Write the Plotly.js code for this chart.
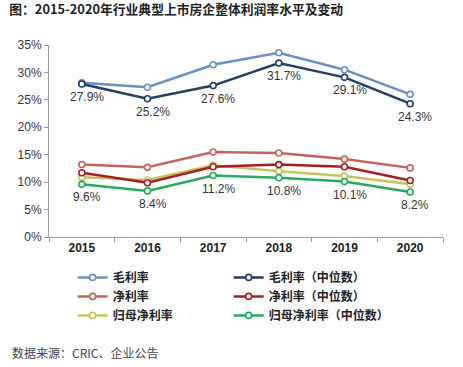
<!DOCTYPE html>
<html><head><meta charset="utf-8">
<script src="https://cdn.plot.ly/plotly-3.0.1.min.js"></script>
<style>html,body{margin:0;padding:0;background:#fff}#c{width:463px;height:367px}</style>
</head><body><div id="c"></div>
<script>
const years = ['2015','2016','2017','2018','2019','2020'];
const gross = [28.1, 27.3, 31.4, 33.6, 30.5, 26.0];
const grossMed = [27.9, 25.2, 27.6, 31.7, 29.1, 24.3];
const net = [13.2, 12.7, 15.5, 15.3, 14.2, 12.6];
const netMed = [11.7, 9.9, 12.8, 13.2, 12.8, 10.3];
const parentNet = [10.9, 10.4, 13.1, 12.0, 11.1, 9.6];
const parentNetMed = [9.6, 8.4, 11.2, 10.8, 10.1, 8.2];
const names = ['毛利率','毛利率（中位数）','净利率','净利率（中位数）','归母净利率','归母净利率（中位数）'];
const titleText = '图：2015-2020年行业典型上市房企整体利润率水平及变动';
const sourceText = '数据来源：CRIC、企业公告';

const F = 'Liberation Sans, Arial, Noto Sans CJK SC, sans-serif';
const CJK = 'Noto Sans CJK SC, Liberation Sans, sans-serif';
const colors = ['#6a90bf','#233f66','#c6625c','#a51f22','#c4c45e','#25aa5e'];
const series = [gross, grossMed, net, netMed, parentNet, parentNetMed];
const legendIds = ['legend','legend2','legend','legend2','legend','legend2'];

const traces = series.map((s,i)=>({
  x: years, y: s.map(v=>v/100), name: names[i], type:'scatter', mode:'lines+markers',
  line:{color:colors[i], width:2.5},
  marker:{symbol:'circle', size:6, color:'#ffffff', line:{color:colors[i], width:1.6}},
  legend: legendIds[i], legendrank: i+1, hoverinfo:'skip'
}));
// draw order: put green and navy on top
const order = [0,2,4,3,1,5];
const data = order.map(i=>traces[i]);

const annotations = [];
[grossMed, parentNetMed].forEach(s=>{
  s.forEach((v,j)=>annotations.push({x:j, y:v/100, xref:'x', yref:'y', text:v.toFixed(1)+'%',
    showarrow:false, xshift:5, yshift:-13, font:{family:F,size:12,color:'#333'}}));
});
annotations.push({xref:'paper', yref:'paper', x:-0.1, y:-0.6, xanchor:'left', yanchor:'middle',
  text:sourceText, showarrow:false, font:{family:CJK,size:12,color:'#444'}});

const layout = {
  width:463, height:367, paper_bgcolor:'#fff', plot_bgcolor:'#fff',
  margin:{l:49, r:20, t:45, b:130},
  title:{text:titleText, x:0.02, xref:'container', xanchor:'left', y:0.975, yref:'container', yanchor:'middle',
    font:{family:CJK, size:12.8, color:'#222', weight:'bold'}},
  xaxis:{type:'category', range:[-0.5,5.5], showgrid:false, showline:true, linecolor:'#999', linewidth:1,
    ticks:'outside', tickson:'boundaries', ticklen:4, tickcolor:'#999',
    tickfont:{family:F, size:12, color:'#222', weight:'bold'}, fixedrange:true},
  yaxis:{range:[0,0.35], dtick:0.05, tickformat:'.0%', showgrid:false, showline:true, linecolor:'#999', linewidth:1,
    ticks:'outside', ticklen:4, tickcolor:'#999', zeroline:false,
    tickfont:{family:F, size:12, color:'#333'}},
  showlegend:true,
  legend:{x:0.06, y:-0.135, xanchor:'left', yanchor:'top', orientation:'v', bgcolor:'rgba(0,0,0,0)',
    font:{family:CJK, size:12, color:'#222', weight:'bold'}, traceorder:'normal', itemwidth:30},
  legend2:{x:0.456, y:-0.135, xanchor:'left', yanchor:'top', orientation:'v', bgcolor:'rgba(0,0,0,0)',
    font:{family:CJK, size:12, color:'#222', weight:'bold'}, traceorder:'normal', itemwidth:30},
  annotations: annotations
};
Plotly.newPlot('c', data, layout, {displayModeBar:false, staticPlot:true});
</script></body></html>
